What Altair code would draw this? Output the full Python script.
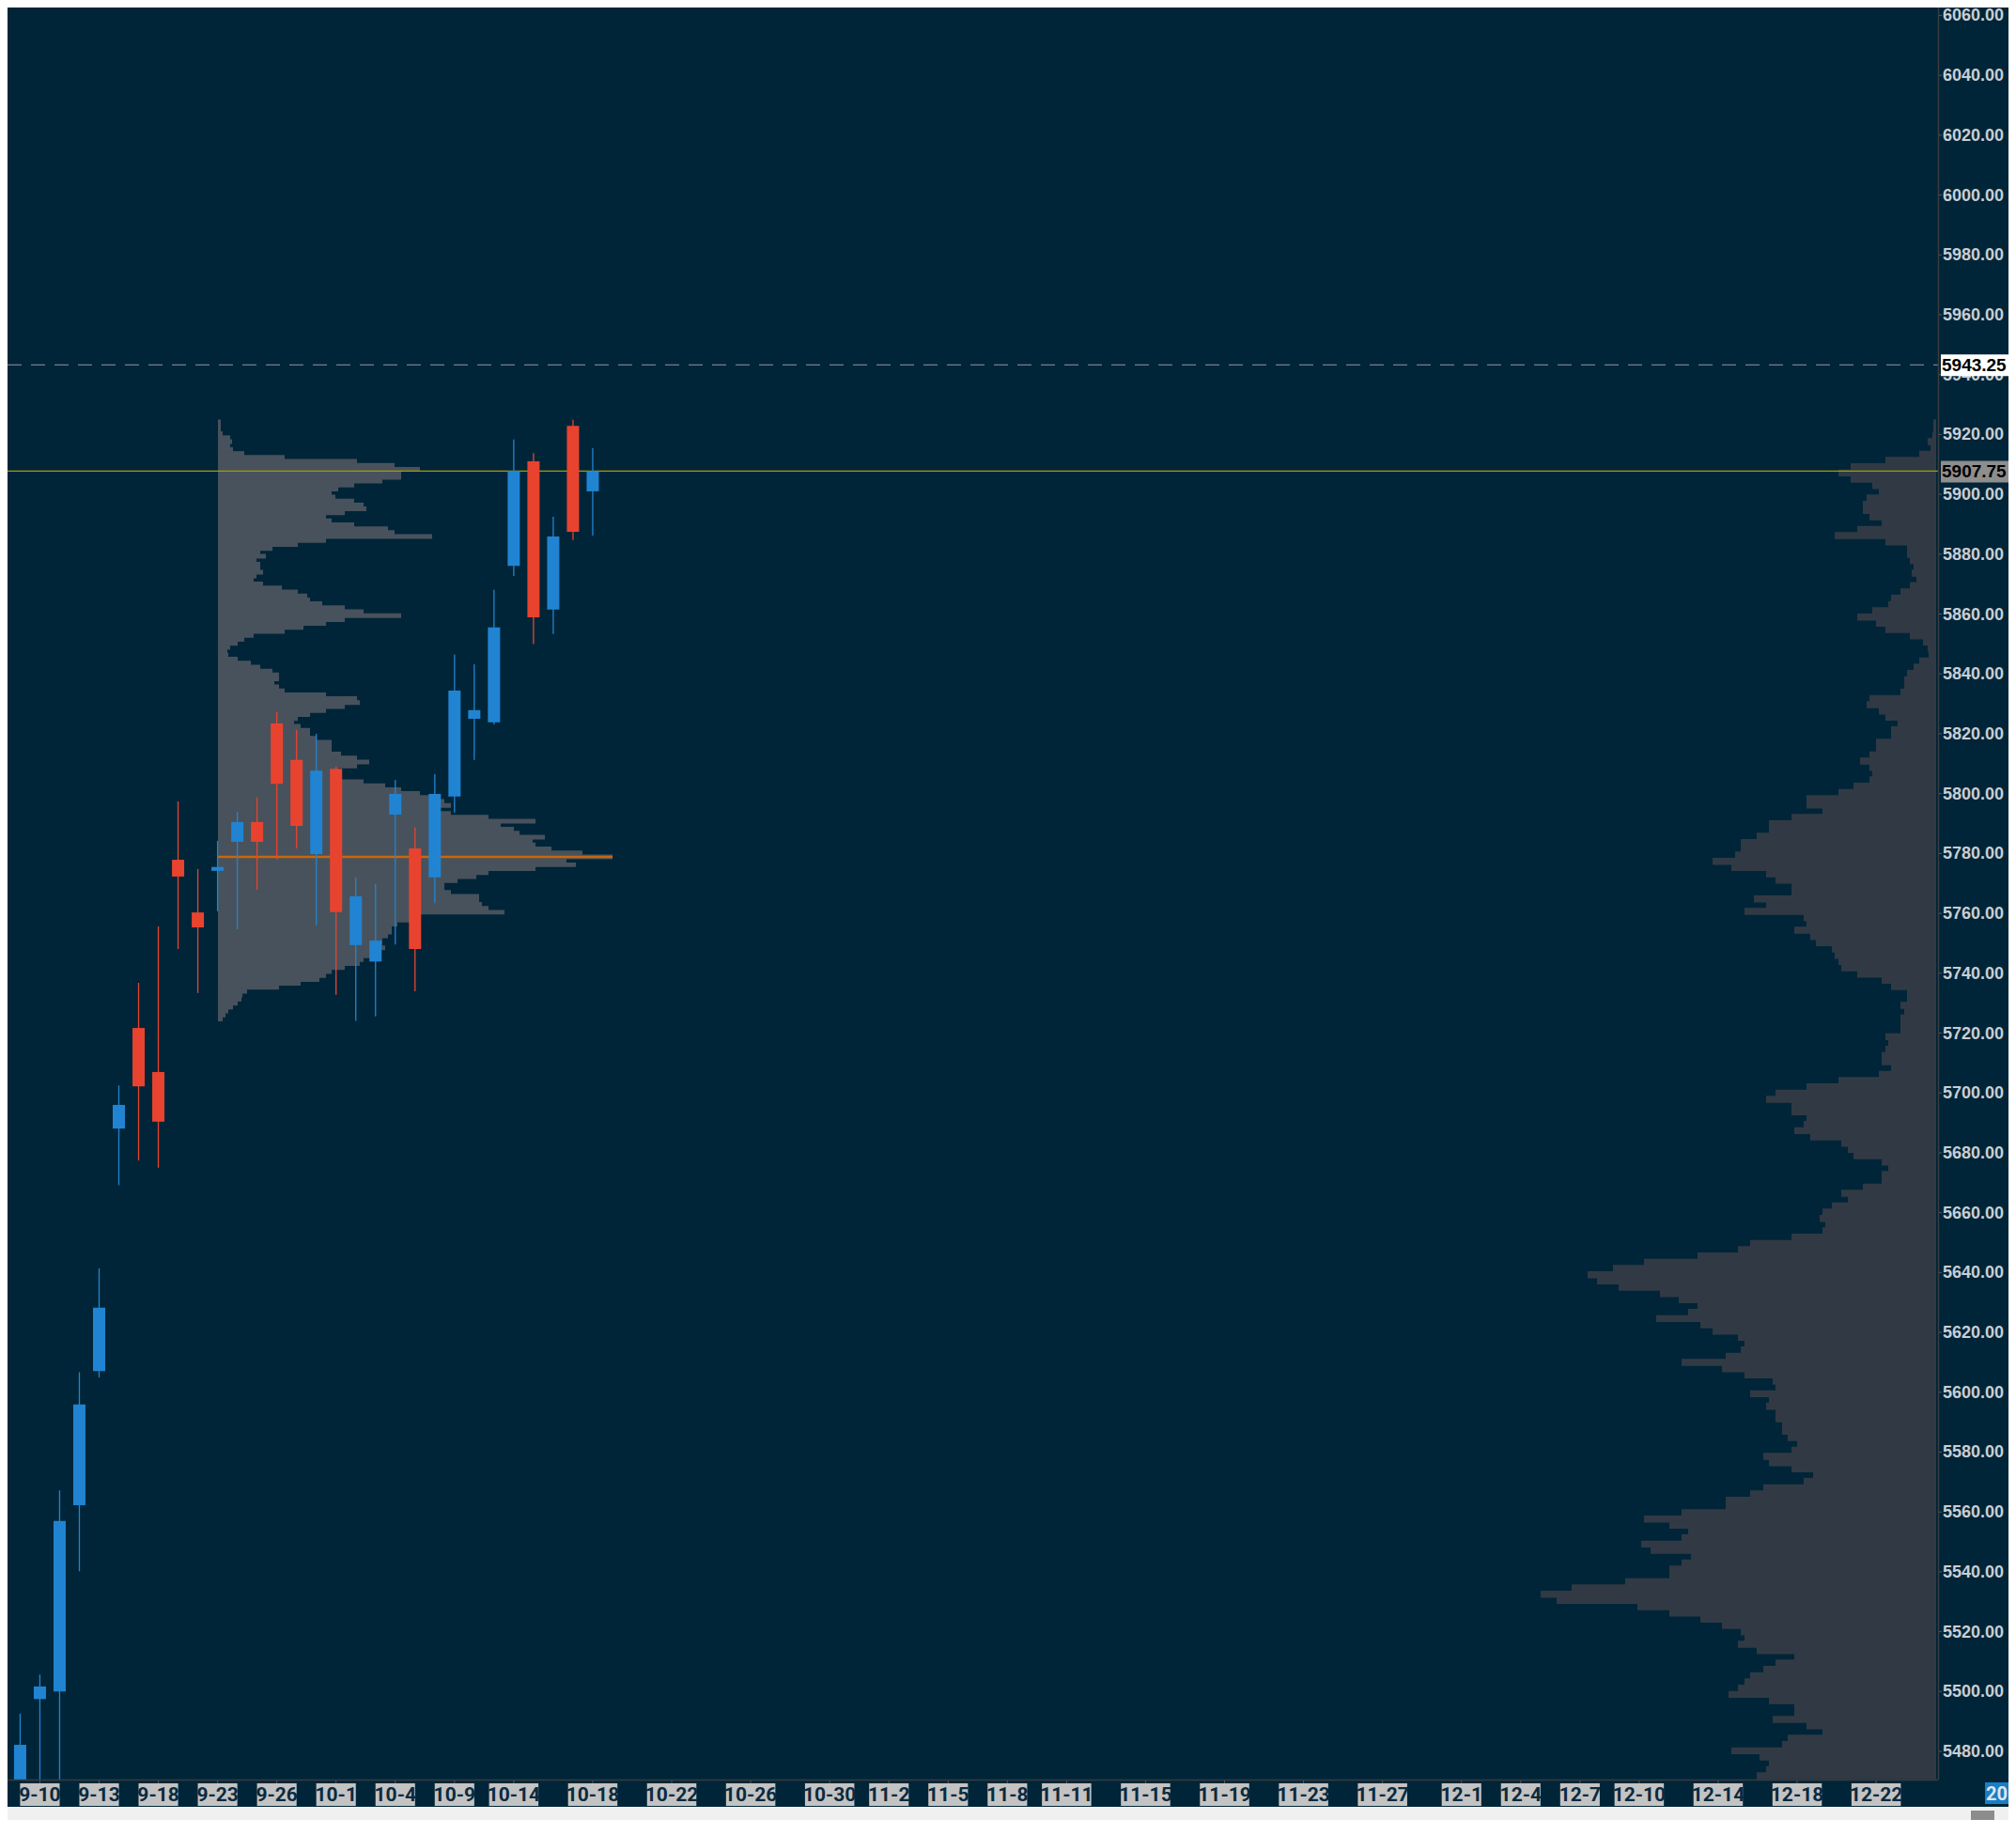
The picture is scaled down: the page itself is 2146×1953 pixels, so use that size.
import altair as alt
import pandas as pd
import numpy as np

# ---------------- data ----------------
dates = ["9-6", "9-9", "9-10", "9-11", "9-12", "9-13", "9-16", "9-17", "9-18", "9-19", "9-20",
         "9-23", "9-24", "9-25", "9-26", "9-27", "9-30", "10-1", "10-2", "10-3", "10-4",
         "10-7", "10-8", "10-9", "10-10", "10-11", "10-14", "10-15", "10-16", "10-17", "10-18"]
opens = [5515.2, 5465.0, 5497.5, 5500.0, 5562.3, 5607.1, 5688.1, 5721.7, 5707.0, 5777.9, 5760.3,
         5774.2, 5783.9, 5790.5, 5823.4, 5811.3, 5779.8, 5808.3, 5749.4, 5743.9, 5793.0,
         5781.7, 5772.0, 5799.0, 5825.0, 5823.8, 5876.1, 5911.0, 5861.5, 5922.9, 5901.0]
highs = [5532.1, 5492.6, 5505.7, 5567.2, 5606.7, 5641.4, 5702.5, 5736.8, 5755.6, 5797.4, 5774.8,
         5784.2, 5793.9, 5798.7, 5827.2, 5821.3, 5820.0, 5809.1, 5772.0, 5769.8, 5804.6,
         5788.7, 5806.5, 5846.4, 5843.2, 5868.1, 5918.3, 5913.8, 5892.5, 5924.9, 5915.4]
lows = [5452.0, 5458.0, 5455.0, 5452.0, 5540.2, 5604.9, 5669.2, 5677.4, 5675.0, 5748.1, 5733.4,
        5760.7, 5754.7, 5767.9, 5778.0, 5781.7, 5755.9, 5732.8, 5724.1, 5725.6, 5749.6,
        5734.0, 5763.4, 5793.7, 5811.3, 5823.1, 5872.7, 5850.0, 5853.3, 5884.7, 5886.2]
closes = [5462.0, 5482.2, 5501.7, 5557.0, 5595.9, 5628.3, 5696.0, 5702.2, 5690.4, 5772.3, 5755.3,
          5775.5, 5790.5, 5783.9, 5803.3, 5789.2, 5807.7, 5760.4, 5765.7, 5750.9, 5799.9,
          5748.1, 5799.9, 5834.4, 5827.9, 5855.5, 5907.8, 5858.9, 5885.9, 5887.5, 5907.75]

tick_slots = [2, 5, 8, 11, 14, 17, 20, 23, 26, 30, 34, 38, 42, 45, 48, 51, 54, 58, 62, 66, 70,
              74, 77, 80, 83, 87, 91, 95]
tick_labels = ["9-10", "9-13", "9-18", "9-23", "9-26", "10-1", "10-4", "10-9", "10-14", "10-18",
               "10-22", "10-26", "10-30", "11-2", "11-5", "11-8", "11-11", "11-15", "11-19",
               "11-23", "11-27", "12-1", "12-4", "12-7", "12-10", "12-14", "12-18", "12-22"]

price_ticks = list(range(5480, 6061, 20))
last_price = 5907.75
ref_price = 5943.25

# volume profile for 9-23 .. 10-18 (top row first), row step in points
left_top, left_step = 5924.21, 1.3212
left_vol = [3, 3, 3, 5, 13, 15, 13, 16, 28, 71,
            148, 188, 215, 195, 195, 175, 145, 128, 121, 125,
            145, 155, 158, 135, 115, 121, 145, 181, 188, 228,
            115, 85, 58, 45, 51, 41, 45, 45, 48, 41,
            38, 48, 68, 85, 95, 98, 111, 135, 155, 195,
            135, 115, 91, 71, 38, 28, 21, 13, 10, 11,
            21, 35, 45, 58, 65, 65, 60, 65, 71, 115,
            148, 151, 135, 115, 98, 85, 81, 88, 98, 98,
            105, 121, 121, 121, 131, 148, 161, 148, 128, 121,
            131, 155, 178, 195, 215, 228, 241, 248, 235, 248,
            288, 338, 301, 315, 321, 348, 335, 338, 355, 388,
            420, 371, 381, 338, 288, 275, 255, 241, 241, 248,
            278, 278, 281, 288, 305, 215, 208, 191, 185, 185,
            181, 175, 175, 178, 171, 165, 155, 151, 135, 121,
            115, 108, 88, 65, 31, 26, 25, 21, 16, 11,
            8, 5]

# volume profile of the whole visible range (right side, top row first)
right_top, right_step = 5923.88, 2.0928
right_vol = [3, 3, 4, 9, 6, 18, 54, 91, 104, 91,
             68, 61, 74, 78, 78, 71, 58, 84, 108, 54,
             31, 31, 28, 24, 26, 21, 28, 38, 48, 51,
             68, 84, 64, 54, 28, 14, 9, 8, 18, 24,
             31, 34, 34, 38, 71, 74, 61, 54, 41, 48,
             48, 64, 64, 71, 81, 71, 68, 71, 88, 104,
             138, 138, 121, 154, 178, 178, 191, 208, 208, 214,
             238, 218, 181, 171,
             154, 154, 194, 181, 204, 141, 138, 151, 134, 128,
             111, 108, 104, 101, 84, 58, 48, 31, 31, 38,
             34, 38, 38, 38, 54, 51, 54, 58, 58, 48,
             61, 104, 138, 171, 181, 154, 154, 138, 141, 151,
             134, 101, 94, 88, 58, 51, 58, 58, 78, 101,
             94, 111, 121, 124, 118, 121, 154, 198, 211, 254,
             311, 344, 371, 361, 338, 294, 274, 254, 264, 298,
             251, 238, 211, 204, 208, 224, 271, 228,
             204, 174, 171, 198, 178, 181, 171, 171, 164, 164,
             158, 148, 154, 184, 178, 154, 131, 141, 184, 198,
             224, 224, 271, 311, 284, 264, 271, 314, 304, 261,
             271, 284, 284, 331, 388, 421, 404, 318, 284, 251,
             228, 208, 204, 211, 191, 151, 171, 184, 198, 204,
             211, 221, 178, 151, 151, 174, 138, 121, 158, 164,
             218, 188, 178, 181, 191]

# ---------------- layout / style ----------------
W, H = 2130, 1929
PLOT_R, PLOT_B = 2055, 1886
PX_PER_SLOT = 21.018
PX_PER_PT = 3.1856
LEFT_ANCHOR, RIGHT_ANCHOR = 11.02, 98.04

BG = "#012538"
UP, DOWN = "#2184d2", "#e8432f"
AXIS_C = "#3a3c3e"
LABEL_FONT = "Roboto"

xs = alt.Scale(domain=[0.361, 101.703], nice=False, zero=False)
ys = alt.Scale(domain=[5457.10, 6062.64], nice=False, zero=False)


def X(f):
    return alt.X(f, type="quantitative", scale=xs, axis=None)


def Y(f):
    return alt.Y(f, type="quantitative", scale=ys, axis=None)


# candles
cd = pd.DataFrame({"slot": range(len(dates)), "date": dates, "open": opens, "high": highs,
                   "low": lows, "close": closes})
cd["fill"] = np.where(cd["close"] >= cd["open"], UP, DOWN)
cd["x_lo"] = cd["slot"] - 6.5 / PX_PER_SLOT
cd["x_hi"] = cd["slot"] + 6.5 / PX_PER_SLOT
ccol = alt.Color("fill:N", scale=None)

wicks = alt.Chart(cd).mark_rule(strokeWidth=1.3, opacity=1).encode(
    x=X("slot"), y=Y("low"), y2="high", color=ccol)
bodies = alt.Chart(cd).mark_rect(opacity=1).encode(
    x=X("x_lo"), x2="x_hi", y=Y("open"), y2="close", color=ccol)

# profiles
OVL = 0.12  # small overlap between adjacent rows to avoid seams
lp = pd.DataFrame({"vol": left_vol})
lp["p"] = left_top - left_step * np.arange(len(left_vol))
lp["p_lo"] = lp["p"] - left_step / 2 - OVL
lp["p_hi"] = lp["p"] + left_step / 2 + OVL
lp["x0"] = LEFT_ANCHOR
lp["x1"] = LEFT_ANCHOR + lp["vol"] / PX_PER_SLOT

rp = pd.DataFrame({"vol": right_vol})
rp["p"] = right_top - right_step * np.arange(len(right_vol))
rp["p_lo"] = rp["p"] - right_step / 2 - OVL
rp["p_hi"] = rp["p"] + right_step / 2 + OVL
rp["x0"] = RIGHT_ANCHOR - rp["vol"] / PX_PER_SLOT
rp["x1"] = RIGHT_ANCHOR

right_prof = alt.Chart(rp).mark_rect(color="#313a44", opacity=1).encode(
    x=X("x0"), x2="x1", y=Y("p_lo"), y2="p_hi")
left_prof = alt.Chart(lp).mark_rect(color="#48525c", opacity=1).encode(
    x=X("x0"), x2="x1", y=Y("p_lo"), y2="p_hi")

poc = lp.loc[[lp["vol"].idxmax()]]
poc_rule = alt.Chart(poc).mark_rule(color="#c8680c", strokeWidth=2.5).encode(
    x=X("x0"), x2="x1", y=Y("p"))

lines = pd.DataFrame({"p": [ref_price]})
dash_rule = alt.Chart(lines).mark_rule(color="#8d98a2", strokeWidth=1, strokeDash=[15, 10]).encode(
    x=alt.value(0), x2=alt.value(PLOT_R), y=Y("p"))
last = pd.DataFrame({"p": [last_price]})
last_rule = alt.Chart(last).mark_rule(color="#a39d00", strokeWidth=1.4).encode(
    x=alt.value(0), x2=alt.value(PLOT_R), y=Y("p"))

one = pd.DataFrame({"k": [0]})
cover = alt.Chart(one).mark_rect(color=BG).encode(
    x=alt.value(0), x2=alt.value(W), y=alt.value(PLOT_B), y2=alt.value(H))
bottom_axis = alt.Chart(one).mark_rule(color=AXIS_C, strokeWidth=1.5).encode(
    x=alt.value(0), x2=alt.value(PLOT_R), y=alt.value(PLOT_B + 0.5))
right_axis = alt.Chart(one).mark_rule(color=AXIS_C, strokeWidth=1.5).encode(
    x=alt.value(PLOT_R + 0.5), y=alt.value(0), y2=alt.value(PLOT_B + 0.5))

# x labels
xl = pd.DataFrame({"slot": tick_slots, "label": tick_labels})
xl["half"] = (xl["label"].str.len() * 10.4 + 0.5) / 2 / PX_PER_SLOT
xl["x_lo"] = xl["slot"] - xl["half"]
xl["x_hi"] = xl["slot"] + xl["half"]
xticks = alt.Chart(xl).mark_rule(color="#55585a", strokeWidth=1).encode(
    x=X("slot"), y=alt.value(PLOT_B + 1), y2=alt.value(PLOT_B + 4))
xboxes = alt.Chart(xl).mark_rect(color="#c3c3c3").encode(
    x=X("x_lo"), x2="x_hi", y=alt.value(1890), y2=alt.value(1914))
xtexts = alt.Chart(xl).mark_text(
    font=LABEL_FONT, fontWeight="bold", fontSize=21,
    color="#0a2a3f", baseline="middle", align="center", dy=1).encode(
    x=X("slot"), y=alt.value(1902), text="label:N")

# y labels
yl = pd.DataFrame({"p": price_ticks})
yl["label"] = yl["p"].map(lambda v: f"{v:.2f}")
yticks = alt.Chart(yl).mark_rule(color="#55585a", strokeWidth=1).encode(
    x=alt.value(PLOT_R + 1), x2=alt.value(PLOT_R + 4), y=Y("p"))
ytexts = alt.Chart(yl).mark_text(
    font="Liberation Sans, Arial", fontWeight="bold", fontSize=18, color="#c9ced3",
    align="left", baseline="middle", dy=1).encode(
    x=alt.value(2060), y=Y("p"), text="label:N")

# price flags
flags = pd.DataFrame({"p": [ref_price, last_price], "fill": ["#ffffff", "#8e8e8e"]})
flags["label"] = flags["p"].map(lambda v: f"{v:.2f}")
flags["p_lo"] = flags["p"] - 12 / PX_PER_PT
flags["p_hi"] = flags["p"] + 11 / PX_PER_PT
fboxes = alt.Chart(flags).mark_rect(opacity=1).encode(
    x=alt.value(2058), x2=alt.value(W), y=Y("p_lo"), y2="p_hi",
    color=alt.Color("fill:N", scale=None))
ftexts = alt.Chart(flags).mark_text(
    font="Liberation Sans, Arial", fontWeight="bold", fontSize=19, color="#000000",
    align="left", baseline="middle", dy=1).encode(
    x=alt.value(2059), y=Y("p"), text="label:N")

# date flag at far right and bottom strip
cur = pd.DataFrame({"label": ["20"]})
cur_box = alt.Chart(cur).mark_rect(color="#1a7ec5").encode(
    x=alt.value(2105), x2=alt.value(W), y=alt.value(1889), y2=alt.value(1912))
cur_text = alt.Chart(cur).mark_text(
    font=LABEL_FONT, fontWeight="bold", fontSize=20,
    color="#dce6ee", align="left", baseline="middle", dy=1).encode(
    x=alt.value(2106), y=alt.value(1901), text="label:N")
strip = alt.Chart(one).mark_rect(color="#f0f0f0").encode(
    x=alt.value(0), x2=alt.value(W), y=alt.value(1915), y2=alt.value(H))
square = alt.Chart(one).mark_rect(color="#8c8c8c").encode(
    x=alt.value(2090), x2=alt.value(2115), y=alt.value(1919), y2=alt.value(H))

chart = alt.layer(
    right_prof, left_prof, poc_rule, dash_rule, last_rule, wicks, bodies,
    cover, bottom_axis, right_axis, xticks, xboxes, xtexts, yticks, ytexts,
    fboxes, ftexts, cur_box, cur_text, strip, square
).properties(
    width=W, height=H, padding=0, autosize=alt.AutoSizeParams(type="none")
).configure(background=BG).configure_view(strokeWidth=0, fill=BG)

chart.save("out.html", embed_options={"renderer": "svg", "actions": False})
